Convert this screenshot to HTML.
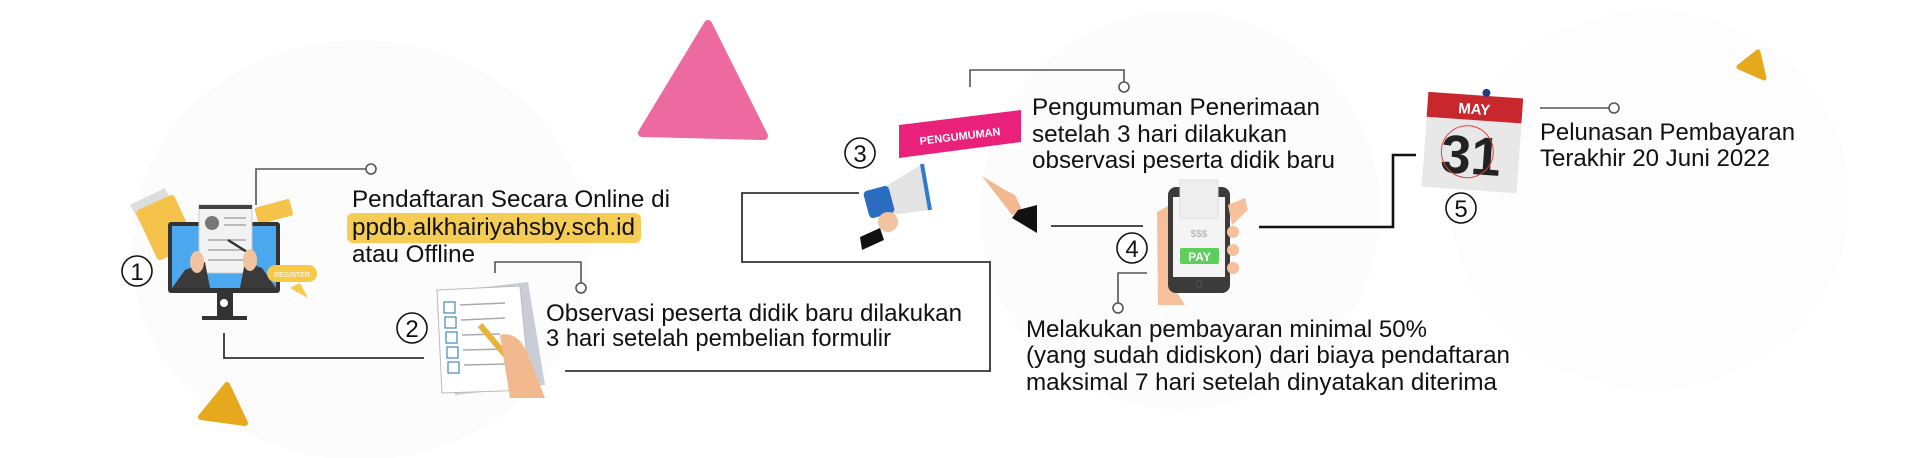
<!DOCTYPE html>
<html><head><meta charset="utf-8"><style>
html,body{margin:0;padding:0;background:#fff;}
svg{display:block;}
text{font-family:"Liberation Sans",sans-serif;}
</style></head><body>
<svg width="1920" height="458" viewBox="0 0 1920 458" xmlns="http://www.w3.org/2000/svg">
<rect width="1920" height="458" fill="#fff"/>
<ellipse cx="360" cy="250" rx="230" ry="210" fill="#fcfcfc"/>
<ellipse cx="1180" cy="210" rx="200" ry="200" fill="#fcfcfc"/>
<ellipse cx="1650" cy="200" rx="200" ry="190" fill="#fdfdfd"/>

<polygon points="708,24 642,133 764,136" fill="#ec6aa0" stroke="#ec6aa0" stroke-width="8" stroke-linejoin="round"/>
<polygon points="227,385 201,417 245,423" fill="#e6a91e" stroke="#e6a91e" stroke-width="6" stroke-linejoin="round"/>
<polygon points="1758,52 1739,67 1764,78" fill="#e6a91e" stroke="#e6a91e" stroke-width="5" stroke-linejoin="round"/>

<g fill="none" stroke="#555" stroke-width="1.6">
<polyline points="256,205 256,169 366,169"/>
<circle cx="371" cy="169" r="5" fill="#fff"/>
<polyline points="495,273 495,262 581,262 581,283"/>
<circle cx="581" cy="288" r="5" fill="#fff"/>
<polyline points="970,87 970,70 1124,70 1124,82"/>
<circle cx="1124" cy="87" r="5" fill="#fff"/>
<polyline points="1147,273 1118,273 1118,303"/>
<circle cx="1118" cy="308" r="5" fill="#fff"/>
<polyline points="1540,108 1609,108"/>
<circle cx="1614" cy="108" r="5" fill="#fff"/>
</g>
<g fill="none" stroke="#333" stroke-width="1.8">
<polyline points="224,333 224,358 424,358"/>
<polyline points="565,371 990,371 990,262 742,262 742,193 859,193"/>
<polyline points="1051,226 1143,226"/>
</g>
<polyline points="1259,227 1393,227 1393,155 1416,155" fill="none" stroke="#111" stroke-width="2.6"/>

<g fill="#fff" stroke="#111" stroke-width="1.6">
<circle cx="137" cy="271" r="15"/><circle cx="412" cy="328" r="15"/>
<circle cx="860" cy="153" r="15"/><circle cx="1132" cy="248" r="15"/>
<circle cx="1461" cy="208" r="15"/>
</g>
<g font-size="24" text-anchor="middle" fill="#111">
<text x="137" y="280">1</text><text x="412" y="337">2</text>
<text x="860" y="162">3</text><text x="1132" y="257">4</text>
<text x="1461" y="217">5</text>
</g>

<g>
<polygon points="130,205 165,188 190,240 160,258" fill="#ddd"/>
<rect x="145" y="200" width="42" height="55" rx="4" fill="#f5c24a" transform="rotate(-25 166 228)"/>
<rect x="256" y="203" width="36" height="17" rx="2" fill="#f5c24a" transform="rotate(-15 274 212)"/>
<rect x="168" y="222" width="112" height="71" rx="3" fill="#333"/>
<rect x="172" y="226" width="104" height="62" fill="#4ba8ef"/>
<rect x="199" y="205" width="53" height="68" fill="#f2f2f2" stroke="#ccc"/>
<rect x="199" y="205" width="53" height="4" fill="#444"/>
<circle cx="212" cy="223" r="7" fill="#777"/>
<g stroke="#bbb" stroke-width="2"><line x1="224" y1="218" x2="246" y2="218"/><line x1="224" y1="225" x2="246" y2="225"/><line x1="208" y1="240" x2="246" y2="240"/><line x1="208" y1="250" x2="246" y2="250"/><line x1="208" y1="260" x2="246" y2="260"/></g>
<line x1="228" y1="240" x2="255" y2="257" stroke="#333" stroke-width="2.5"/>
<path d="M172,288 L185,270 L205,262 L210,288 Z" fill="#3a3a3a"/>
<path d="M276,288 L262,268 L245,262 L240,288 Z" fill="#3a3a3a"/>
<ellipse cx="197" cy="262" rx="7" ry="11" fill="#f2c3a0"/>
<ellipse cx="250" cy="260" rx="7" ry="11" fill="#f2c3a0"/>
<rect x="217" y="293" width="16" height="25" fill="#333"/>
<circle cx="224" cy="303" r="4" fill="#fff"/>
<rect x="202" y="316" width="45" height="4" fill="#333"/>
<rect x="267" y="265" width="50" height="17" rx="8.5" fill="#f7c948"/>
<text x="292" y="277" font-size="7" fill="#fff" text-anchor="middle">REGISTER</text>
<polygon points="290,288 308,298 300,283" fill="#f7c948"/>
</g>

<g>
<polygon points="443,292 528,282 545,385 455,395" fill="#c9ced6"/>
<polygon points="437,290 520,286 530,390 442,393" fill="#fff" stroke="#bbb"/>
<g fill="#fff" stroke="#48b" stroke-width="1.2">
<rect x="444" y="302" width="11" height="11"/><rect x="445" y="317" width="11" height="11"/><rect x="446" y="332" width="11" height="11"/><rect x="447" y="347" width="11" height="11"/><rect x="448" y="362" width="11" height="11"/>
</g>
<g stroke="#aaa" stroke-width="1.5"><line x1="460" y1="305" x2="505" y2="303"/><line x1="461" y1="320" x2="505" y2="318"/><line x1="462" y1="335" x2="500" y2="334"/><line x1="463" y1="350" x2="505" y2="349"/><line x1="464" y1="365" x2="505" y2="364"/></g>
<line x1="480" y1="325" x2="525" y2="378" stroke="#e9b23a" stroke-width="6"/>
<line x1="520" y1="372" x2="525" y2="378" stroke="#e05040" stroke-width="6"/>
<path d="M500,335 Q520,330 530,360 L545,398 L510,398 Z" fill="#f2b98f"/>
</g>

<polygon points="899,125 1021,110 1021,142 899,158" fill="#e9217a"/>
<text x="960" y="140" font-size="11" font-weight="bold" fill="#fff" text-anchor="middle" transform="rotate(-7 960 136)">PENGUMUMAN</text>

<g>
<polygon points="880,190 922,164 930,210 890,215" fill="#e3e3e3"/>
<line x1="922" y1="164" x2="930" y2="210" stroke="#2f7ac9" stroke-width="4"/>
<rect x="866" y="188" width="26" height="28" rx="4" fill="#2a6cc0" transform="rotate(-15 879 202)"/>
<ellipse cx="888" cy="222" rx="10" ry="10" fill="#f2c3a0"/>
<polygon points="860,237 880,228 884,240 862,250" fill="#111"/>
</g>
<g>
<path d="M982,176 L1005,190 L1015,195 L1022,210 L1012,215 Z" fill="#f2b98f"/>
<polygon points="1018,210 1037,205 1037,233 1012,218" fill="#111"/>
</g>

<g>
<path d="M1157,212 L1170,205 L1172,285 L1185,305 L1158,305 Z" fill="#f5c09a"/>
<rect x="1168" y="187" width="62" height="106" rx="8" fill="#3b3b3b"/>
<rect x="1173" y="197" width="52" height="80" fill="#f4f4f4"/>
<rect x="1180" y="180" width="38" height="38" fill="#eee" stroke="#ddd"/>
<text x="1199" y="237" font-size="10" font-weight="bold" fill="#bbb" text-anchor="middle">$$$</text>
<rect x="1180" y="248" width="39" height="16" rx="2" fill="#5ccf5c"/>
<text x="1199.5" y="261" font-size="12" font-weight="bold" fill="#fff" text-anchor="middle">PAY</text>
<circle cx="1199" cy="284" r="3" fill="none" stroke="#555"/>
<path d="M1228,205 L1245,198 L1248,210 L1232,225 Z" fill="#f5c09a"/>
<circle cx="1233" cy="232" r="6" fill="#f5c09a"/><circle cx="1233" cy="250" r="6" fill="#f5c09a"/><circle cx="1233" cy="268" r="6" fill="#f5c09a"/>
</g>

<g transform="rotate(4 1472 142)">
<rect x="1425" y="95" width="95" height="95" fill="#e8e8e8"/>
<rect x="1425" y="95" width="95" height="25" fill="#c8272d"/>
<text x="1472" y="114" font-size="15" font-weight="bold" fill="#fff" text-anchor="middle">MAY</text>
<text x="1472" y="174" font-size="54" font-weight="bold" fill="#222" text-anchor="middle">31</text>
<circle cx="1468" cy="152" r="26" fill="none" stroke="#d44" stroke-width="1"/>
<circle cx="1483" cy="92" r="4" fill="#1e3f7a"/>
</g>

<rect x="347" y="213" width="294" height="30" rx="6" fill="#f5cd55"/>
<g font-size="24" fill="#111" lengthAdjust="spacingAndGlyphs">
<text x="352" y="207" textLength="318" lengthAdjust="spacingAndGlyphs">Pendaftaran Secara Online di</text>
<text x="352" y="235" textLength="283" lengthAdjust="spacingAndGlyphs">ppdb.alkhairiyahsby.sch.id</text>
<text x="352" y="262" textLength="123" lengthAdjust="spacingAndGlyphs">atau Offline</text>
<text x="546" y="321" textLength="416" lengthAdjust="spacingAndGlyphs">Observasi peserta didik baru dilakukan</text>
<text x="546" y="346" textLength="345" lengthAdjust="spacingAndGlyphs">3 hari setelah pembelian formulir</text>
<text x="1032" y="115" textLength="288" lengthAdjust="spacingAndGlyphs">Pengumuman Penerimaan</text>
<text x="1032" y="142" textLength="255" lengthAdjust="spacingAndGlyphs">setelah 3 hari dilakukan</text>
<text x="1032" y="168" textLength="303" lengthAdjust="spacingAndGlyphs">observasi peserta didik baru</text>
<text x="1026" y="337" textLength="401" lengthAdjust="spacingAndGlyphs">Melakukan pembayaran minimal 50%</text>
<text x="1026" y="363" textLength="484" lengthAdjust="spacingAndGlyphs">(yang sudah didiskon) dari biaya pendaftaran</text>
<text x="1026" y="390" textLength="471" lengthAdjust="spacingAndGlyphs">maksimal 7 hari setelah dinyatakan diterima</text>
<text x="1540" y="140" textLength="255" lengthAdjust="spacingAndGlyphs">Pelunasan Pembayaran</text>
<text x="1540" y="166" textLength="230" lengthAdjust="spacingAndGlyphs">Terakhir 20 Juni 2022</text>
</g>
</svg>
</body></html>
